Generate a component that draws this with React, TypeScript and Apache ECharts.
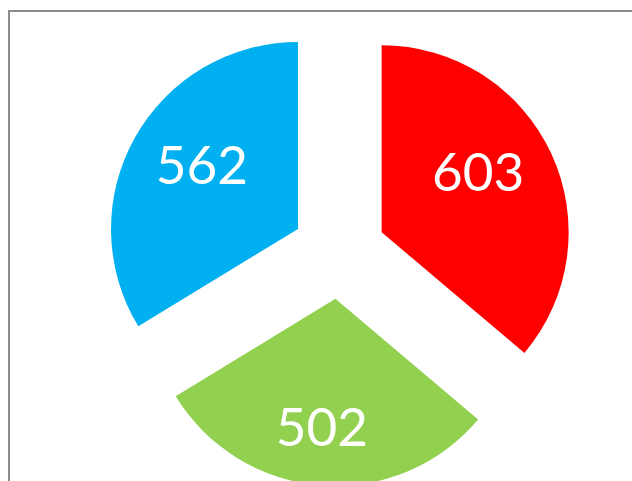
import React, { useEffect, useRef } from "react";
import * as echarts from "echarts";

const categories = ["A", "B", "C"];
const values = [603, 502, 562];
const colors = ["#FF0000", "#92D050", "#00B0F0"];
const labelShift: [number, number][] = [
  [9, -21],
  [-6, 30],
  [-12, -18],
];

export default function App() {
  const ref = useRef<HTMLDivElement>(null);
  useEffect(() => {
    if (!ref.current) return;
    const chart = echarts.init(ref.current, null, { renderer: "svg" });
    chart.setOption({
      animation: false,
      backgroundColor: "#ffffff",
      graphic: [
        {
          type: "rect",
          z: -10,
          shape: { x: 9, y: 11, width: 700, height: 600 },
          style: { fill: "none", stroke: "#8c8c8c", lineWidth: 2 },
          silent: true,
        },
      ],
      series: [
        {
          type: "pie",
          center: [339, 252],
          radius: [0, 187],
          startAngle: 90,
          clockwise: true,
          selectedMode: "multiple",
          selectedOffset: 47,
          emphasis: { disabled: true },
          label: {
            show: true,
            position: "inside",
            color: "#ffffff",
            fontFamily: "Lato",
            fontSize: 53,
            formatter: "{c}",
          },
          labelLine: { show: false },
          labelLayout: (p: any) => ({
            dx: labelShift[p.dataIndex][0],
            dy: labelShift[p.dataIndex][1],
          }),
          data: categories.map((c, i) => ({
            name: c,
            value: values[i],
            selected: true,
            itemStyle: { color: colors[i] },
          })),
        },
      ],
    });
    return () => chart.dispose();
  }, []);
  return (
    <div
      ref={ref}
      style={{ position: "fixed", left: 0, top: 0, width: 632, height: 481 }}
    />
  );
}
